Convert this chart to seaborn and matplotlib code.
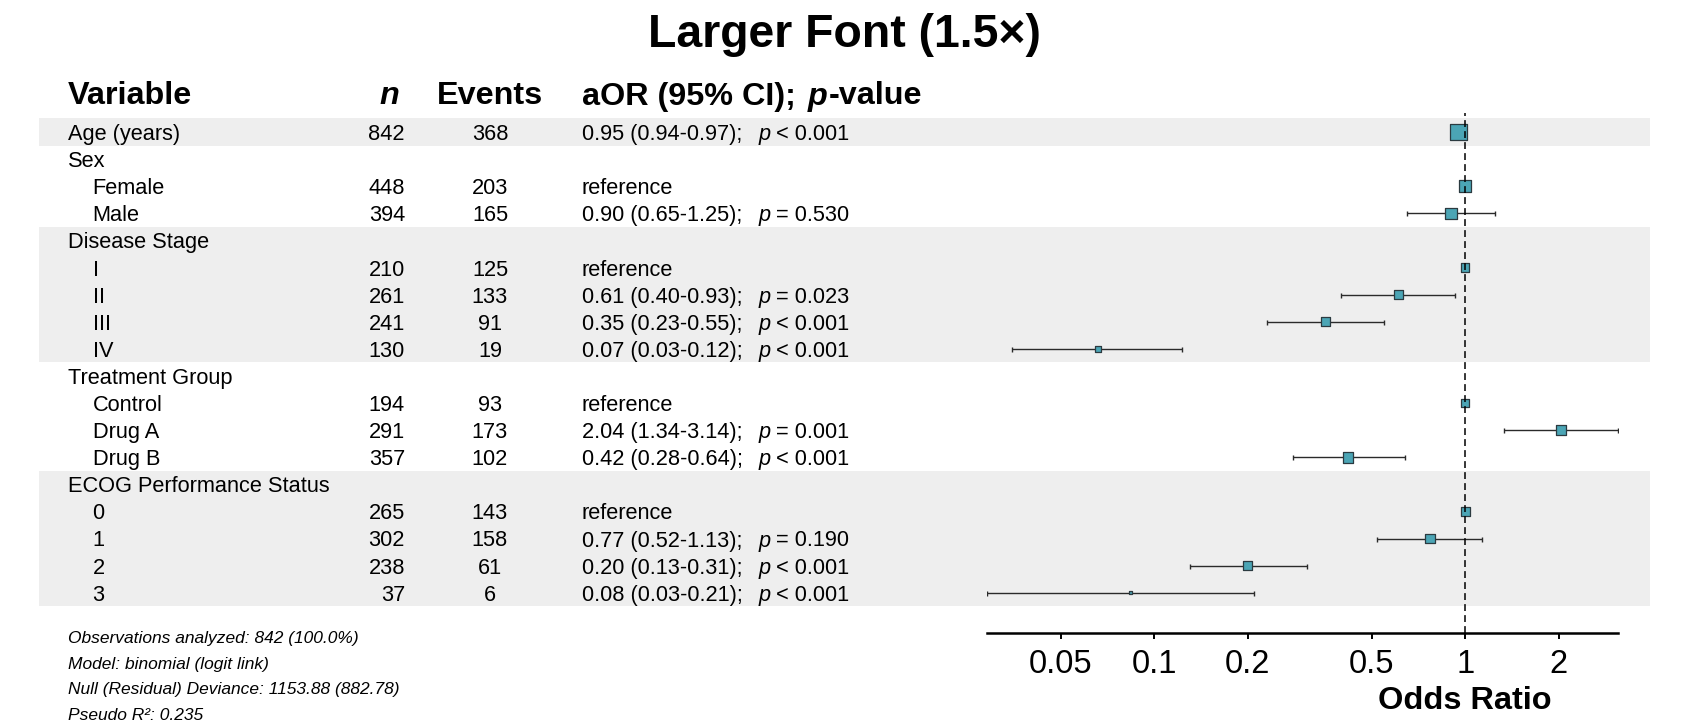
import numpy as np
import pandas as pd
import matplotlib
matplotlib.use("Agg")
import matplotlib.pyplot as plt
from matplotlib.patches import Rectangle
from matplotlib.ticker import FixedLocator, NullLocator
import seaborn as sns

# ---------------- data ----------------
variables = ["Age (years)", "Sex", "Female", "Male", "Disease Stage", "I", "II", "III", "IV",
             "Treatment Group", "Control", "Drug A", "Drug B", "ECOG Performance Status",
             "0", "1", "2", "3"]
indent = [0, 0, 1, 1, 0, 1, 1, 1, 1, 0, 1, 1, 1, 0, 1, 1, 1, 1]
block = [0, 1, 1, 1, 2, 2, 2, 2, 2, 3, 3, 3, 3, 4, 4, 4, 4, 4]
n_obs = [842, None, 448, 394, None, 210, 261, 241, 130, None, 194, 291, 357, None, 265, 302, 238, 37]
events = [368, None, 203, 165, None, 125, 133, 91, 19, None, 93, 173, 102, None, 143, 158, 61, 6]
odds = [0.95, np.nan, 1.0, 0.90, np.nan, 1.0, 0.61, 0.355, 0.066, np.nan, 1.0, 2.03, 0.42,
        np.nan, 1.0, 0.77, 0.20, 0.084]
ci_low = [0.94, np.nan, np.nan, 0.65, np.nan, np.nan, 0.40, 0.23, 0.035, np.nan, np.nan, 1.33, 0.28,
          np.nan, np.nan, 0.52, 0.13, 0.029]
ci_high = [0.97, np.nan, np.nan, 1.25, np.nan, np.nan, 0.93, 0.55, 0.123, np.nan, np.nan, 3.10, 0.64,
           np.nan, np.nan, 1.13, 0.31, 0.21]
est_text = ["0.95 (0.94-0.97);", "", "reference", "0.90 (0.65-1.25);", "", "reference",
            "0.61 (0.40-0.93);", "0.35 (0.23-0.55);", "0.07 (0.03-0.12);", "", "reference",
            "2.04 (1.34-3.14);", "0.42 (0.28-0.64);", "", "reference", "0.77 (0.52-1.13);",
            "0.20 (0.13-0.31);", "0.08 (0.03-0.21);"]
p_text = ["< 0.001", "", "", "= 0.530", "", "", "= 0.023", "< 0.001", "< 0.001", "", "",
          "= 0.001", "< 0.001", "", "", "= 0.190", "< 0.001", "< 0.001"]
tick_values = [0.05, 0.1, 0.2, 0.5, 1, 2]
tick_labels = ["0.05", "0.1", "0.2", "0.5", "1", "2"]
footnotes = ["Observations analyzed: 842 (100.0%)", "Model: binomial (logit link)",
             "Null (Residual) Deviance: 1153.88 (882.78)", "Pseudo R²: 0.235"]
title = "Larger Font (1.5×)"

# ---------------- style ----------------
sns.set_style("white")
plt.rcParams['font.family'] = ['Liberation Sans', 'DejaVu Sans']
plt.rcParams['text.color'] = 'black'
plt.rcParams['axes.labelcolor'] = 'black'
plt.rcParams['xtick.color'] = 'black'

W, H = 1689, 720
fig = plt.figure(figsize=(W / 100, H / 100), dpi=100)

ROW0, PITCH = 132.0, 27.1
def row_y(i):
    return ROW0 + PITCH * i

# background axes in pixel coordinates
bg = fig.add_axes([0, 0, 1, 1], zorder=0)
bg.set_xlim(0, W)
bg.set_ylim(H, 0)
bg.axis("off")

band_color = "#eeeeee"
for b in sorted(set(block)):
    if b % 2 == 0:
        rows = [i for i, bb in enumerate(block) if bb == b]
        top = row_y(min(rows)) - PITCH / 2
        bot = row_y(max(rows)) + PITCH / 2
        bg.add_patch(Rectangle((38.8, top), 1650 - 38.8, bot - top, facecolor=band_color,
                               edgecolor="none", linewidth=0))

BODY = 15.7
HEAD = 23.3
X_VAR, X_IND, X_N, X_EV, X_EST, X_P, X_PV = 68, 92.6, 405, 490, 581.7, 759, 776.5

for i, lab in enumerate(variables):
    yb = row_y(i) + 8
    bg.text(X_IND if indent[i] else X_VAR, yb, lab, fontsize=BODY, va="baseline", ha="left")
    if n_obs[i] is not None:
        bg.text(X_N, yb, str(n_obs[i]), fontsize=BODY, va="baseline", ha="right")
        bg.text(X_EV, yb, str(events[i]), fontsize=BODY, va="baseline", ha="center")
    if est_text[i]:
        bg.text(X_EST, yb, est_text[i], fontsize=BODY, va="baseline", ha="left")
    if p_text[i]:
        bg.text(X_P, yb, "p", fontsize=BODY, style="italic", va="baseline", ha="left")
        bg.text(X_PV, yb, p_text[i], fontsize=BODY, va="baseline", ha="left")

# headers
HB = 104.5
bg.text(X_VAR, HB, "Variable", fontsize=HEAD, fontweight="bold", va="baseline")
bg.text(399, HB, "n", fontsize=HEAD, fontweight="bold", style="italic", va="baseline", ha="right")
bg.text(X_EV, HB, "Events", fontsize=HEAD, fontweight="bold", va="baseline", ha="center")
renderer = fig.canvas.get_renderer()
t1 = bg.text(X_EST, HB, "aOR (95% CI);", fontsize=HEAD, fontweight="bold", va="baseline")
x1 = t1.get_window_extent(renderer=renderer).x1
t2 = bg.text(x1 + 12, HB, "p", fontsize=HEAD, fontweight="bold", style="italic", va="baseline")
x2 = t2.get_window_extent(renderer=renderer).x1
bg.text(x2 + 1, HB, "-value", fontsize=HEAD, fontweight="bold", va="baseline")

# title
bg.text(W / 2, 47, title, fontsize=33.4, fontweight="bold", ha="center", va="baseline")

# footnotes
for k, s in enumerate(footnotes):
    bg.text(X_VAR, 643 + 25.5 * k, s, fontsize=12.5, style="italic", va="baseline", ha="left")

# ---------------- forest axes ----------------
AX_L, AX_R, AX_T, AX_B = 987, 1618, 113, 633
ax = fig.add_axes([AX_L / W, 1 - AX_B / H, (AX_R - AX_L) / W, (AX_B - AX_T) / H], zorder=1)
ax.patch.set_alpha(0)

df = pd.DataFrame({"row": np.arange(len(variables)), "OR": odds, "lo": ci_low, "hi": ci_high,
                   "n": [np.nan if v is None else v for v in n_obs]})
pts = df.dropna(subset=["OR"])
ci = df.dropna(subset=["lo"])

ax.errorbar(ci["OR"], ci["row"], xerr=[ci["OR"] - ci["lo"], ci["hi"] - ci["OR"]], fmt="none",
            ecolor="#2a2a2a", elinewidth=1.0, capsize=1.8, capthick=1.0, zorder=2)
smax = (16.5 * 0.72) ** 2
sns.scatterplot(data=pts, x="OR", y="row", size="n", sizes=(smax * 37 / 842, smax),
                size_norm=(37, 842), marker="s", color="#4ba5b5", edgecolor="#2b3a40",
                linewidth=0.9, legend=False, ax=ax, zorder=3)
ax.axvline(1, color="black", lw=1.1, linestyle=(0, (4.5, 2.7)), zorder=4)

ax.set_xscale("log")
ax.set_xlim(0.029, 3.1)
ax.set_ylim((AX_B - ROW0) / PITCH, (AX_T - ROW0) / PITCH)
ax.xaxis.set_major_locator(FixedLocator(tick_values))
ax.xaxis.set_minor_locator(NullLocator())
ax.set_xticklabels(tick_labels)
ax.yaxis.set_major_locator(NullLocator())
ax.set_ylabel("")
for sp in ["top", "left", "right"]:
    ax.spines[sp].set_visible(False)
ax.spines["bottom"].set_linewidth(1.8)
ax.spines["bottom"].set_color("black")
ax.tick_params(axis="x", direction="out", length=4.3, width=1.4, colors="black",
               labelsize=23.5, pad=7, bottom=True)
frac1 = (0 - np.log10(0.029)) / (np.log10(3.1) - np.log10(0.029))
ax.set_xlabel("Odds Ratio", fontsize=23.4, fontweight="bold")
ax.xaxis.set_label_coords(frac1, -(709 - AX_B) / (AX_B - AX_T))
ax.xaxis.label.set_va("baseline")

fig.savefig("out.png", dpi=100)
